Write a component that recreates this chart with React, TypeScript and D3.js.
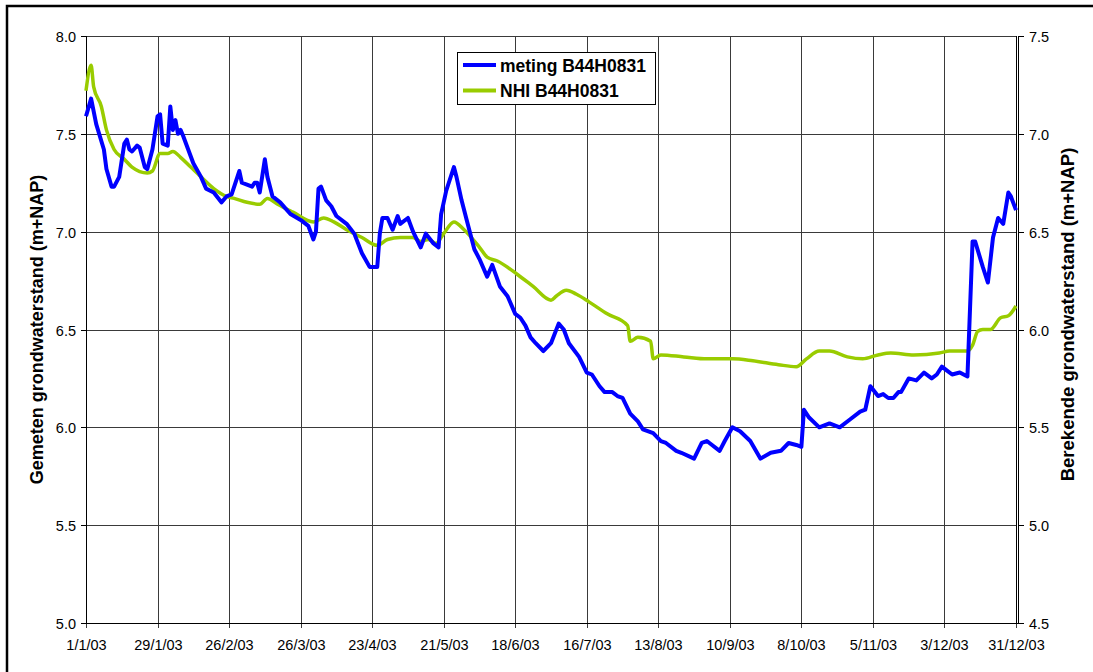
import * as d3 from "d3";
import { useEffect, useRef } from "react";

// day offsets from 1/1/03 and measured level (m+NAP, left axis)
const measDays = [
  0, 2, 4, 7, 8, 10, 11, 13, 15, 16, 17, 18, 20, 21, 23, 24, 26, 28, 29, 30, 32, 33, 34, 35, 36, 37, 38, 40, 42, 45,
  47, 50, 53, 55, 57, 58, 60, 61, 63, 65, 66, 67, 68, 70, 71, 73, 76, 80, 84, 87, 89, 90, 91, 92, 94, 96, 98, 102,
  105, 108, 111, 114, 115, 116, 118, 120, 122, 123, 126, 128, 131, 133, 136, 138, 139, 141, 142, 144, 145, 147, 149,
  152, 154, 157, 159, 162, 165, 168, 170, 172, 174, 176, 179, 182, 185, 187, 189, 193, 196, 198, 201, 203, 206, 208,
  210, 213, 216, 218, 222, 225, 227, 231, 233, 238, 241, 243, 248, 250, 253, 256, 260, 264, 268, 272, 275, 278, 280,
  281, 283, 287, 291, 295, 299, 303, 305, 307, 310, 312, 314, 316, 318, 319, 322, 325, 328, 331, 333, 335, 337, 339,
  342, 345, 347, 348, 351, 353, 355, 357, 359, 361, 362, 364,
];
const measValues = [
  7.59, 7.68, 7.55, 7.42, 7.32, 7.23, 7.23, 7.28, 7.45, 7.47, 7.42, 7.41, 7.44, 7.43, 7.33, 7.32, 7.42, 7.59, 7.6,
  7.45, 7.44, 7.64, 7.52, 7.57, 7.5, 7.52, 7.49, 7.42, 7.35, 7.28, 7.22, 7.2, 7.15, 7.18, 7.19, 7.23, 7.31, 7.25,
  7.24, 7.23, 7.25, 7.25, 7.2, 7.37, 7.28, 7.18, 7.15, 7.09, 7.06, 7.03, 6.96, 7.0, 7.22, 7.23, 7.16, 7.13, 7.08,
  7.04, 6.99, 6.89, 6.82, 6.82, 6.99, 7.07, 7.07, 7.01, 7.08, 7.04, 7.07, 7.0, 6.92, 6.99, 6.94, 6.92, 7.09, 7.21,
  7.25, 7.33, 7.28, 7.16, 7.06, 6.91, 6.86, 6.77, 6.83, 6.72, 6.67, 6.58, 6.56, 6.52, 6.46, 6.43, 6.39, 6.43, 6.53,
  6.5, 6.43, 6.36, 6.28, 6.27, 6.21, 6.18, 6.18, 6.16, 6.15, 6.07, 6.03, 5.99, 5.97, 5.93, 5.92, 5.88, 5.87, 5.84,
  5.92, 5.93, 5.88, 5.93, 6.0, 5.98, 5.93, 5.84, 5.87, 5.88, 5.92, 5.91, 5.9, 6.09, 6.05, 6.0, 6.02, 6.0, 6.04,
  6.08, 6.09, 6.21, 6.16, 6.17, 6.15, 6.15, 6.18, 6.18, 6.25, 6.24, 6.28, 6.25, 6.27, 6.31, 6.29, 6.27, 6.28, 6.26,
  6.95, 6.95, 6.82, 6.74, 6.97, 7.07, 7.04, 7.2, 7.18, 7.11,
];

// NHI computed level (m+NAP, right axis)
const nhiDays = [
  0, 2, 3, 6, 8, 11, 15, 18, 24, 26, 29, 32, 34, 37, 41, 45, 50, 55, 58, 63, 68, 71, 75, 81, 89, 93, 97, 102, 108,
  114, 118, 123, 128, 131, 134, 137, 140, 144, 148, 154, 157, 161, 169, 175, 182, 184, 188, 192, 197, 204, 212, 213,
  216, 221, 222, 225, 234, 243, 253, 261, 271, 278, 282, 287, 291, 298, 304, 310, 315, 324, 334, 338, 345, 347, 349,
  351, 354, 358, 361, 364,
];
const nhiValues = [
  7.22, 7.35, 7.24, 7.14, 7.02, 6.92, 6.87, 6.83, 6.8, 6.81, 6.9, 6.9, 6.91, 6.88, 6.83, 6.78, 6.72, 6.68, 6.67,
  6.65, 6.64, 6.67, 6.64, 6.6, 6.55, 6.57, 6.55, 6.51, 6.47, 6.43, 6.46, 6.47, 6.47, 6.45, 6.46, 6.44, 6.49, 6.55,
  6.51, 6.42, 6.37, 6.35, 6.28, 6.22, 6.15, 6.17, 6.2, 6.18, 6.14, 6.08, 6.02, 5.94, 5.96, 5.94, 5.85, 5.87, 5.86,
  5.85, 5.85, 5.84, 5.82, 5.81, 5.85, 5.89, 5.89, 5.86, 5.85, 5.87, 5.88, 5.87, 5.88, 5.89, 5.89, 5.92, 5.99, 6.0,
  6.0, 6.06, 6.07, 6.12,
];

const xTickDates = [
  "2003-01-01", "2003-01-29", "2003-02-26", "2003-03-26", "2003-04-23", "2003-05-21", "2003-06-18",
  "2003-07-16", "2003-08-13", "2003-09-10", "2003-10-08", "2003-11-05", "2003-12-03", "2003-12-31",
];
const leftTicks = [5.0, 5.5, 6.0, 6.5, 7.0, 7.5, 8.0];
const rightTicks = [4.5, 5.0, 5.5, 6.0, 6.5, 7.0, 7.5];

const seriesNames = ["meting B44H0831", "NHI B44H0831"];
const seriesColors = ["#0000ff", "#99cc00"];

const W = 1093;
const H = 672;

function parseDay(s: string) {
  const [y, m, d] = s.split("-").map(Number);
  return new Date(y, m - 1, d);
}

export default function App() {
  const ref = useRef<SVGSVGElement>(null);

  useEffect(() => {
    document.body.style.margin = "0";
    const margin = { top: 36, left: 86, right: 1016, bottom: 623 };
    const start = new Date(2003, 0, 1);
    const day = (n: number) => d3.timeDay.offset(start, n);

    const svg = d3.select(ref.current);
    svg.selectAll("*").remove();

    const x = d3.scaleTime().domain([start, new Date(2003, 11, 31)]).range([margin.left, margin.right]);
    const yL = d3.scaleLinear().domain([5, 8]).range([margin.bottom, margin.top]);
    const yR = d3.scaleLinear().domain([4.5, 7.5]).range([margin.bottom, margin.top]);
    const font = "Arial, 'Liberation Sans', sans-serif";

    // outer frame
    svg.append("rect")
      .attr("x", 7).attr("y", 6).attr("width", 1200).attr("height", 800)
      .attr("fill", "#fff").attr("stroke", "#000").attr("stroke-width", 2.5);

    // grid
    const grid = svg.append("g").attr("stroke", "#3a3a3a").attr("stroke-width", 1);
    leftTicks.forEach((t) => {
      const yy = Math.round(yL(t)) + 0.5;
      grid.append("line").attr("x1", margin.left).attr("x2", margin.right).attr("y1", yy).attr("y2", yy);
    });
    xTickDates.forEach((s) => {
      const xx = Math.round(x(parseDay(s))) + 0.5;
      grid.append("line").attr("x1", xx).attr("x2", xx).attr("y1", margin.top).attr("y2", margin.bottom + 5);
    });

    // left axis
    const axL = svg.append("g").attr("stroke", "#000");
    axL.append("line").attr("x1", margin.left + 0.5).attr("x2", margin.left + 0.5).attr("y1", margin.top).attr("y2", margin.bottom);
    leftTicks.forEach((t) => {
      const yy = Math.round(yL(t)) + 0.5;
      axL.append("line").attr("x1", margin.left - 5).attr("x2", margin.left).attr("y1", yy).attr("y2", yy);
      svg.append("text").attr("x", 76).attr("y", yy + 5).attr("text-anchor", "end")
        .attr("font-family", font).attr("font-size", 14.5).text(t.toFixed(1));
    });

    // right axis (double line)
    const axR = svg.append("g").attr("stroke", "#000");
    axR.append("line").attr("x1", margin.right + 0.5).attr("x2", margin.right + 0.5).attr("y1", margin.top).attr("y2", margin.bottom);
    axR.append("line").attr("x1", margin.right + 2.5).attr("x2", margin.right + 2.5).attr("y1", margin.top).attr("y2", margin.bottom);
    rightTicks.forEach((t) => {
      const yy = Math.round(yR(t)) + 0.5;
      axR.append("line").attr("x1", margin.right + 2).attr("x2", margin.right + 8).attr("y1", yy).attr("y2", yy);
      svg.append("text").attr("x", 1029).attr("y", yy + 5)
        .attr("font-family", font).attr("font-size", 14.5).text(t.toFixed(1));
    });

    // bottom axis
    svg.append("line").attr("stroke", "#000")
      .attr("x1", margin.left).attr("x2", margin.right + 2).attr("y1", margin.bottom + 0.5).attr("y2", margin.bottom + 0.5);
    const fmt = d3.timeFormat("%-d/%-m/%y");
    xTickDates.forEach((s) => {
      const xx = Math.round(x(parseDay(s))) + 0.5;
      svg.append("text").attr("x", xx).attr("y", 650).attr("text-anchor", "middle")
        .attr("font-family", font).attr("font-size", 14.5).text(fmt(parseDay(s)));
    });

    // axis titles
    svg.append("text")
      .attr("transform", `translate(43,${(margin.top + margin.bottom) / 2}) rotate(-90)`)
      .attr("text-anchor", "middle").attr("font-family", font).attr("font-size", 18).attr("font-weight", "bold")
      .text("Gemeten grondwaterstand (m+NAP)");
    svg.append("text")
      .attr("transform", `translate(1074,${(margin.top + margin.bottom) / 2 - 15}) rotate(-90)`)
      .attr("text-anchor", "middle").attr("font-family", font).attr("font-size", 18.5).attr("font-weight", "bold")
      .text("Berekende grondwaterstand (m+NAP)");

    // series
    const meas = measDays.map((d, i) => [day(d), measValues[i]] as [Date, number]);
    const nhi = nhiDays.map((d, i) => [day(d), nhiValues[i]] as [Date, number]);

    const lineL = d3.line<[Date, number]>().x((d) => x(d[0])).y((d) => yL(d[1]));
    const lineR = d3.line<[Date, number]>().x((d) => x(d[0])).y((d) => yR(d[1])).curve(d3.curveMonotoneX);

    svg.append("path").datum(nhi).attr("d", lineR)
      .attr("fill", "none").attr("stroke", seriesColors[1]).attr("stroke-width", 3.5).attr("stroke-linejoin", "round");
    svg.append("path").datum(meas).attr("d", lineL)
      .attr("fill", "none").attr("stroke", seriesColors[0]).attr("stroke-width", 4).attr("stroke-linejoin", "round");

    // legend
    const lg = svg.append("g");
    lg.append("rect").attr("x", 457.5).attr("y", 52.5).attr("width", 198).attr("height", 52)
      .attr("fill", "#fff").attr("stroke", "#000").attr("stroke-width", 1);
    seriesNames.forEach((name, i) => {
      const yy = 65 + i * 25.5;
      lg.append("line").attr("x1", 463).attr("x2", 496).attr("y1", yy).attr("y2", yy)
        .attr("stroke", seriesColors[i]).attr("stroke-width", 4);
      lg.append("text").attr("x", 500).attr("y", yy + 6.5)
        .attr("font-family", font).attr("font-size", 17.5).attr("font-weight", "bold").text(name);
    });
  }, []);

  return <svg ref={ref} width={W} height={H} style={{ display: "block" }} />;
}
